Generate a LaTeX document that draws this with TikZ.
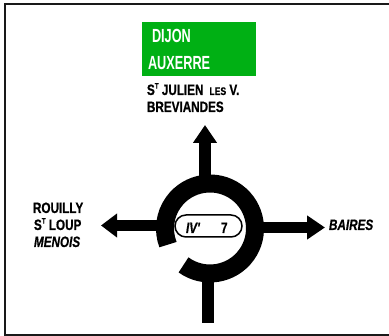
\documentclass[tikz,border=0pt]{standalone}
\usepackage{fontspec}
\usetikzlibrary{arrows.meta}
\newfontfamily\signfont[FakeStretch=0.78,FakeBold=0.6]{Liberation Sans Bold}
\newfontfamily\signital[FakeStretch=0.78,FakeBold=0.6]{Liberation Sans Bold Italic}
\newfontfamily\signwhite[FakeStretch=0.67]{Liberation Sans Bold}
\definecolor{signgreen}{RGB}{0,176,20}
\newcommand{\supT}{\raisebox{0.42em}{\fontsize{8}{8}\selectfont T}}
\tikzset{
  x=1pt,y=1pt,
  frameline/.style={line width=1.6pt,black!90},
  lab/.style={inner sep=0pt,outer sep=0pt,anchor=base west,font=\signfont\fontsize{15}{15}\selectfont,text=black},
  ilab/.style={lab,font=\signital\fontsize{15}{15}\selectfont},
  wlab/.style={lab,font=\signwhite\fontsize{19}{19}\selectfont,text=white},
  arm/.style={line width=11.5pt,black},
  ringline/.style={line width=18pt,black},
  pill/.style={draw=black,line width=1.5pt,rounded corners=11pt,minimum width=67pt,minimum height=22pt,inner sep=0pt,fill=white},
}
\begin{document}
\begin{tikzpicture}
\useasboundingbox (0,0) rectangle (389,336);
\fill[white] (0,0) rectangle (389,336);
\coordinate (ftr) at (389,332);
\coordinate (ftl) at (5,332);
\coordinate (fbl) at (5,1);
\coordinate (fbr) at (389,1);
\draw[frameline] (ftr) -- (ftl) -- (fbl) -- (fbr);
\node[fill=signgreen,minimum width=114pt,minimum height=54pt,inner sep=0pt] (box) at (199,287) {};
\node[wlab] (dijon) at (152,293) {DIJON};
\node[wlab] (auxerre) at (148,266) {AUXERRE};
\node[lab] (julien) at (147,241) {S\supT{} JULIEN\hspace{6pt}{\fontsize{11}{11}\selectfont LES} V.};
\node[lab] (brev) at (147,224) {BREVIANDES};
\node[lab] (rouilly) at (33,123) {ROUILLY};
\node[lab] (loup) at (34,106) {S\supT{} LOUP};
\node[ilab] (menois) at (34,89) {MENOIS};
\node[ilab] (baires) at (329,106) {BAIRES};
\node[circle,minimum size=108pt,inner sep=0pt] (ring) at (210,107.5) {};
\coordinate (utip) at (205,211);
\coordinate (ubase) at (205,158);
\coordinate (ltip) at (101,110.5);
\coordinate (lbase) at (160,110.5);
\coordinate (rtip) at (325,108.5);
\coordinate (rbase) at (260,108.5);
\coordinate (dend) at (208,13);
\coordinate (dbase) at (208,58);
\draw[arm,-{Triangle[length=18pt,width=23pt]}] (ubase) -- (utip);
\draw[arm,-{Triangle[length=16pt,width=23pt]}] (lbase) -- (ltip);
\draw[arm,-{Triangle[length=18pt,width=23pt]}] (rbase) -- (rtip);
\draw[arm] (dbase) -- (dend);
\draw[ringline] (ring.center) ++(234:45) arc[start angle=234,end angle=561,radius=45pt];
\node[pill] (plate) at (208.5,110) {};
\node[ilab] (iv) at (186,103) {IV'};
\node[lab] (seven) at (221,103) {7};
\end{tikzpicture}
\end{document}
